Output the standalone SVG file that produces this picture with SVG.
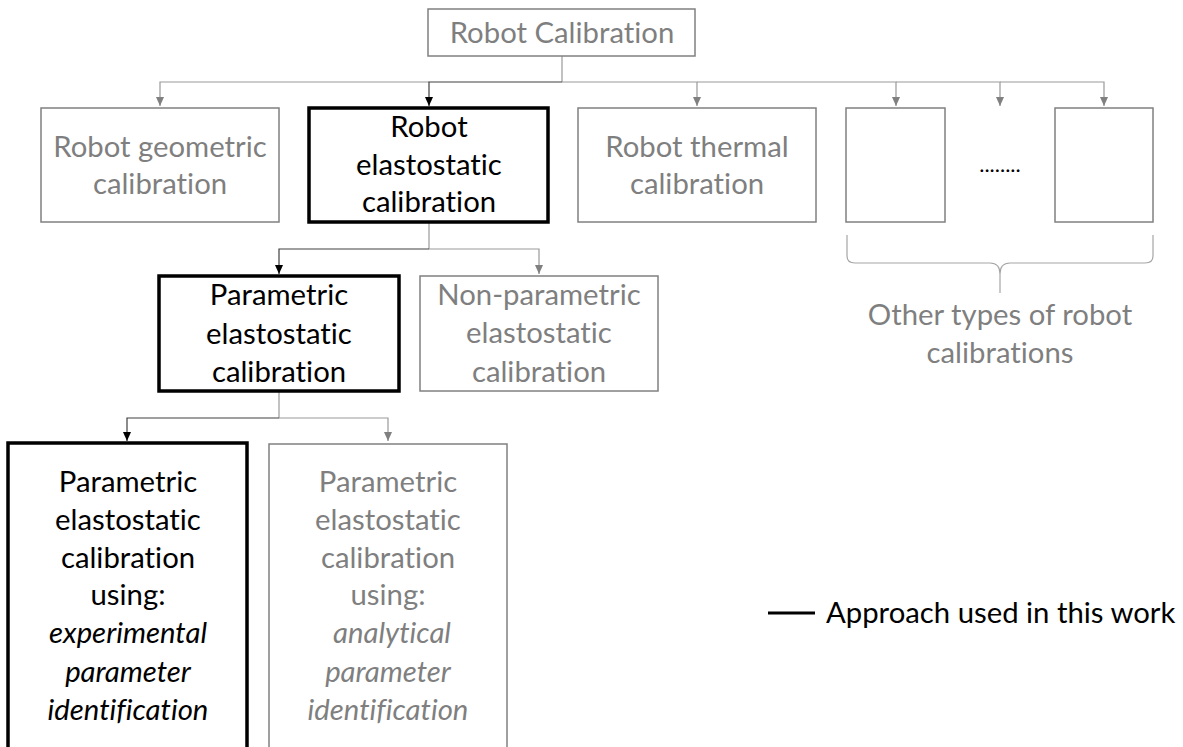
<svg xmlns="http://www.w3.org/2000/svg" width="1183" height="747" viewBox="0 0 1183 747">
  <defs>
    <marker id="arrGray" markerUnits="userSpaceOnUse" markerWidth="10" markerHeight="10" viewBox="0 0 10 10" refX="9" refY="5" orient="auto">
      <path d="M0,1 L9,5 L0,9 Z" fill="#808080"/>
    </marker>
    <marker id="arrDark" markerUnits="userSpaceOnUse" markerWidth="10" markerHeight="10" viewBox="0 0 10 10" refX="9" refY="5" orient="auto">
      <path d="M0,1 L9,5 L0,9 Z" fill="#000000"/>
    </marker>
    <style>
      text { font-family: Lato, "Liberation Sans", sans-serif; font-variant-ligatures: none; font-feature-settings: "liga" 0, "clig" 0; }
      .box { fill: #ffffff; stroke: #808080; stroke-width: 1.5; }
      .box-main { fill: #ffffff; stroke: #000000; stroke-width: 3.5; }
      .lbl { font-size: 29.3px; text-anchor: middle; fill: #7f7f7f; }
      .lbl-main { fill: #000000; }
      .it { font-style: italic; }
      .link { fill: none; stroke: #999999; stroke-width: 1.2; }
      .link-dark { fill: none; stroke: #404040; stroke-width: 1.2; }
    </style>
  </defs>

  <rect width="1183" height="747" fill="#ffffff"/>

  <!-- connectors -->
  <g id="connectors">
    <path class="link" d="M562,56 V82"/>
    <path class="link" d="M429,82 H160 V106" marker-end="url(#arrGray)"/>
    <path class="link" d="M562,82 H697 V106" marker-end="url(#arrGray)"/>
    <path class="link" d="M697,82 H896 V106" marker-end="url(#arrGray)"/>
    <path class="link" d="M896,82 H1000 V106" marker-end="url(#arrGray)"/>
    <path class="link" d="M1000,82 H1104 V106" marker-end="url(#arrGray)"/>
    <path class="link-dark" d="M562,82 H429 V106" marker-end="url(#arrDark)"/>

    <path class="link" d="M429,223 V249"/>
    <path class="link" d="M429,249 H539 V274" marker-end="url(#arrGray)"/>
    <path class="link-dark" d="M429,249 H279 V274" marker-end="url(#arrDark)"/>

    <path class="link" d="M279,392 V418"/>
    <path class="link" d="M279,418 H388 V441" marker-end="url(#arrGray)"/>
    <path class="link-dark" d="M279,418 H127 V441" marker-end="url(#arrDark)"/>

    <!-- brace under the unnamed calibration types -->
    <path fill="none" stroke="#a6a6a6" stroke-width="1.2" d="M847,235 V256 Q847,263 855,263 H990 Q1000,263 1000,274 V293 M1153,235 V256 Q1153,263 1145,263 H1010 Q1000,263 1000,274"/>
  </g>

  <g id="node-robot-calibration">
    <rect class="box" x="428" y="9" width="267" height="47"/>
    <text class="lbl" x="562" y="43">Robot Calibration</text>
  </g>

  <g id="node-geometric">
    <rect class="box" x="41" y="108" width="238" height="114"/>
    <text class="lbl" x="160" y="157">Robot geometric</text>
    <text class="lbl" x="160" y="194">calibration</text>
  </g>

  <g id="node-elastostatic">
    <rect class="box-main" x="309" y="108" width="239" height="114"/>
    <text class="lbl lbl-main" x="429" y="137">Robot</text>
    <text class="lbl lbl-main" x="429" y="175">elastostatic</text>
    <text class="lbl lbl-main" x="429" y="212">calibration</text>
  </g>

  <g id="node-thermal">
    <rect class="box" x="578" y="108" width="238" height="114"/>
    <text class="lbl" x="697" y="157">Robot thermal</text>
    <text class="lbl" x="697" y="194">calibration</text>
  </g>

  <g id="node-other-1">
    <rect class="box" x="846" y="108" width="99" height="114"/>
  </g>

  <g id="node-ellipsis">
    <text x="1000" y="172" font-size="22" text-anchor="middle" fill="#000000">........</text>
  </g>

  <g id="node-other-n">
    <rect class="box" x="1055" y="108" width="98" height="114"/>
  </g>

  <g id="label-other-types">
    <text class="lbl" x="1000" y="325">Other types of robot</text>
    <text class="lbl" x="1000" y="363">calibrations</text>
  </g>

  <g id="node-parametric">
    <rect class="box-main" x="159" y="276" width="240" height="115"/>
    <text class="lbl lbl-main" x="279" y="305">Parametric</text>
    <text class="lbl lbl-main" x="279" y="344">elastostatic</text>
    <text class="lbl lbl-main" x="279" y="382">calibration</text>
  </g>

  <g id="node-nonparametric">
    <rect class="box" x="420" y="276" width="238" height="115"/>
    <text class="lbl" x="539" y="305">Non-parametric</text>
    <text class="lbl" x="539" y="343">elastostatic</text>
    <text class="lbl" x="539" y="382">calibration</text>
  </g>

  <g id="node-experimental">
    <rect class="box-main" x="8" y="443" width="239" height="320"/>
    <text class="lbl lbl-main" x="128" y="492">Parametric</text>
    <text class="lbl lbl-main" x="128" y="530">elastostatic</text>
    <text class="lbl lbl-main" x="128" y="568">calibration</text>
    <text class="lbl lbl-main" x="128" y="605">using:</text>
    <text class="lbl lbl-main it" x="128" y="643">experimental</text>
    <text class="lbl lbl-main it" x="128" y="682">parameter</text>
    <text class="lbl lbl-main it" x="128" y="720">identification</text>
  </g>

  <g id="node-analytical">
    <rect class="box" x="269" y="444" width="238" height="320"/>
    <text class="lbl" x="388" y="492">Parametric</text>
    <text class="lbl" x="388" y="530">elastostatic</text>
    <text class="lbl" x="388" y="568">calibration</text>
    <text class="lbl" x="388" y="605">using:</text>
    <text class="lbl it" x="392" y="643">analytical</text>
    <text class="lbl it" x="388" y="682">parameter</text>
    <text class="lbl it" x="388" y="720">identification</text>
  </g>

  <g id="legend">
    <line x1="768" y1="613" x2="815" y2="613" stroke="#000000" stroke-width="3"/>
    <text x="826" y="623" font-size="29.3" fill="#000000">Approach used in this work</text>
  </g>
</svg>
